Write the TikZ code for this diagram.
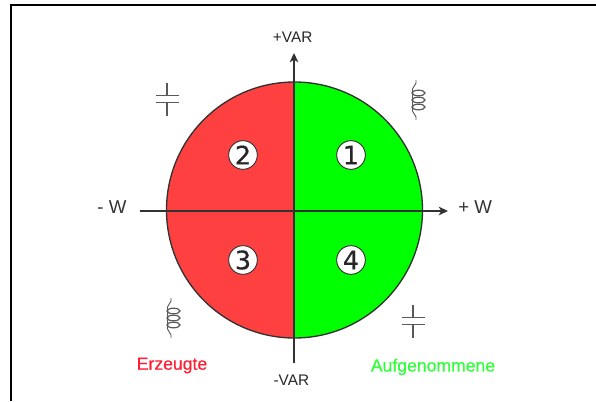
\documentclass[tikz,border=0pt]{standalone}
\usepackage{fontspec}
\setmainfont{Liberation Sans}
\newfontfamily\digitfont[FakeBold=0.7]{DejaVu Sans}
\newfontfamily\legendfont[FakeBold=0.5]{Liberation Sans}
\usetikzlibrary{arrows.meta,positioning}
\definecolor{quadred}{RGB}{255,64,64}
\definecolor{quadgreen}{RGB}{0,255,0}
\definecolor{textred}{RGB}{255,30,50}
\definecolor{textgreen}{RGB}{50,255,60}
\definecolor{cAxis}{RGB}{50,50,50}
\tikzset{
  framelin/.style={line width=1.3pt,color=black},
  rimlin/.style={line width=1pt,color=cAxis},
  axisarr/.style={-{Stealth[length=7pt,width=6.5pt,inset=2pt]},line width=1pt,color=cAxis},
  numnode/.style={circle,draw=cAxis,fill=white,line width=0.7pt,inner sep=0pt,minimum size=21.5pt,font=\digitfont\fontsize{19}{19}\selectfont,text=black!85},
  axlabel/.style={inner sep=0pt,font=\fontsize{11.5}{13}\selectfont,text=black!85},
  wlabel/.style={inner sep=0pt,font=\fontsize{14}{16}\selectfont,text=black!80},
  sidelabel/.style={inner sep=0pt,font=\legendfont\fontsize{13.2}{15}\selectfont,text=#1},
  symlin/.style={line width=1pt,color=black!65},
  capsym/.pic={
    \draw[symlin] (0,16.5) -- (0,3.2);
    \draw[symlin] (0,-3.2) -- (0,-16.5);
    \draw[symlin] (-11.5,3.2) -- (11.5,3.2);
    \draw[symlin] (-11.5,-3.2) -- (11.5,-3.2);
  },
  coilsym/.pic={
    \draw[symlin,line width=0.7pt,rounded corners=1.5pt] (0,20) -- (0,15) -- (-3.5,13) -- (-3.5,-13) -- (0,-15) -- (0,-20);
    \foreach \yy in {7,0,-7}
      \draw[symlin,line width=0.9pt] (2.5,\yy) ellipse (6.5 and 2.8);
  }
}
\begin{document}
\begin{tikzpicture}[x=0.75pt,y=0.75pt]
  \useasboundingbox (0,0) rectangle (596,401);
  %% Frame
  \coordinate (fbl) at (11,0);
  \coordinate (ftr) at (596,396);
  \draw[framelin] (fbl) |- (ftr);

  %% Half discs
  \coordinate (orig) at (294.5,191);
  \fill[quadred] (orig) ++(0,128) arc[start angle=90,end angle=270,radius=128] -- cycle;
  \fill[quadgreen] (orig) ++(0,128) arc[start angle=90,end angle=-90,radius=128] -- cycle;
  \draw[rimlin] (orig) circle[radius=128];

  %% Axes
  \coordinate (vtop) at (294,348);
  \coordinate (vbot) at (294,38);
  \coordinate (hleft) at (140,190);
  \coordinate (hright) at (448,190);
  \draw[axisarr] (vbot) -- (vtop);
  \draw[axisarr] (hleft) -- (hright);

  %% Axis labels
  \node[axlabel,above=8pt of vtop,xshift=-1pt] (lvarp) {+VAR};
  \node[axlabel,below=9pt of vbot,xshift=-2pt] (lvarm) {-VAR};
  \node[wlabel,left=10pt of hleft,yshift=3pt] (lwm) {- W};
  \node[wlabel,right=7.5pt of hright,yshift=3pt] (lwp) {+ W};

  %% Quadrants
  \node[numnode] (q1) at (351,246) {1};
  \node[numnode] (q2) at (243,246) {2};
  \node[numnode] (q3) at (243,141) {3};
  \node[numnode] (q4) at (351,141) {4};

  %% Symbols
  \pic at (167,302) {capsym};
  \pic at (413,80) {capsym};
  \pic at (416,301) {coilsym};
  \pic at (171,83) {coilsym};

  %% Legend
  \node[sidelabel=textred] (lerz) at (172,35.5) {Erzeugte};
  \node[sidelabel=textgreen] (lauf) at (433,34) {Aufgenommene};
\end{tikzpicture}
\end{document}
